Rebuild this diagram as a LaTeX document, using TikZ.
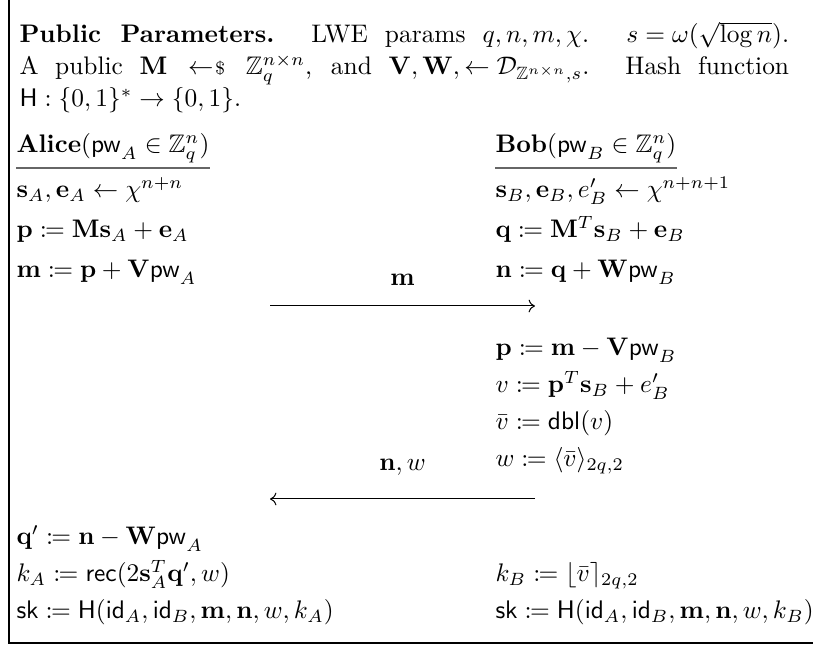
\documentclass[tikz,border=0pt]{standalone}
\usepackage{amsmath,amssymb,mathtools}
\usepackage{tikz}
\usetikzlibrary{arrows.meta}
\newcommand{\pw}{\mathsf{pw}}
\newcommand{\smpl}{\mathrel{\leftarrow\mkern-4mu{\scriptstyle\$}}}

\begin{document}
\begin{tikzpicture}[x=0.3937pt,y=-0.3937pt,
  ltxt/.style={anchor=base west,inner sep=0pt},
  uline/.style={black!60,line width=0.8pt},
  msg/.style={-{To[length=2.5pt,width=5pt]},line width=0.4pt},
  mlab/.style={anchor=base,inner sep=0pt}
]
\useasboundingbox (0,0) rectangle (813,646);
\draw[line width=0.5pt] (9,0) |- (813,643);

% public parameters
\node[ltxt] (pp1) at (19,43) {\makebox[303pt][s]{\textbf{Public Parameters.} LWE params \mbox{$q,n,m,\chi$}. \mbox{$s=\omega(\sqrt{\log n})$}.}};
\node[ltxt] (pp2) at (19,75) {\makebox[303pt][s]{A public $\mathbf{M}\smpl\mathbb{Z}_q^{n\times n}$, and \mbox{$\mathbf{V},\mathbf{W},\leftarrow\mathcal{D}_{\mathbb{Z}^{n\times n},s}$}. Hash function}};
\node[ltxt] (pp3) at (19,107) {$\mathsf{H}:\{0,1\}^*\rightarrow\{0,1\}$.};

% Alice
\node[ltxt] (alice) at (16,153) {$\textbf{Alice}(\pw_A\in\mathbb{Z}_q^n)$};
\draw[uline] ([yshift=-2pt]alice.south west) -- ([yshift=-2pt]alice.south east);
\node[ltxt] (a1) at (16,198) {$\mathbf{s}_A,\mathbf{e}_A\leftarrow\chi^{n+n}$};
\node[ltxt] (a2) at (16,238) {$\mathbf{p}\coloneqq\mathbf{M}\mathbf{s}_A+\mathbf{e}_A$};
\node[ltxt] (a3) at (16,278) {$\mathbf{m}\coloneqq\mathbf{p}+\mathbf{V}\pw_A$};
\node[ltxt] (a4) at (16,545) {$\mathbf{q}'\coloneqq\mathbf{n}-\mathbf{W}\pw_A$};
\node[ltxt] (a5) at (16,582) {$k_A\coloneqq\mathsf{rec}(2\mathbf{s}_A^T\mathbf{q}',w)$};
\node[ltxt] (a6) at (16,619) {$\mathsf{sk}\coloneqq\mathsf{H}(\mathsf{id}_A,\mathsf{id}_B,\mathbf{m},\mathbf{n},w,k_A)$};

% Bob
\node[ltxt] (bob) at (495,153) {$\textbf{Bob}(\pw_B\in\mathbb{Z}_q^n)$};
\draw[uline] ([yshift=-2pt]bob.south west) -- ([yshift=-2pt]bob.south east);
\node[ltxt] (b1) at (495,198) {$\mathbf{s}_B,\mathbf{e}_B,e'_B\leftarrow\chi^{n+n+1}$};
\node[ltxt] (b2) at (495,238) {$\mathbf{q}\coloneqq\mathbf{M}^T\mathbf{s}_B+\mathbf{e}_B$};
\node[ltxt] (b3) at (495,278) {$\mathbf{n}\coloneqq\mathbf{q}+\mathbf{W}\pw_B$};
\node[ltxt] (b4) at (495,356) {$\mathbf{p}\coloneqq\mathbf{m}-\mathbf{V}\pw_B$};
\node[ltxt] (b5) at (495,393) {$v\coloneqq\mathbf{p}^T\mathbf{s}_B+e'_B$};
\node[ltxt] (b6) at (495,430) {$\bar{v}\coloneqq\mathsf{dbl}(v)$};
\node[ltxt] (b7) at (495,467) {$w\coloneqq\langle\bar{v}\rangle_{2q,2}$};
\node[ltxt] (b8) at (495,582) {$k_B\coloneqq\lfloor\bar{v}\rceil_{2q,2}$};
\node[ltxt] (b9) at (495,619) {$\mathsf{sk}\coloneqq\mathsf{H}(\mathsf{id}_A,\mathsf{id}_B,\mathbf{m},\mathbf{n},w,k_B)$};

% messages
\coordinate (m0) at (270,306);
\coordinate (m1) at (535,306);
\draw[msg] (m0) -- node[mlab,above=8pt]{$\mathbf{m}$} (m1);
\coordinate (n0) at (535,499);
\coordinate (n1) at (270,499);
\draw[msg] (n0) -- node[mlab,above=9pt]{$\mathbf{n},w$} (n1);
\end{tikzpicture}
\end{document}
